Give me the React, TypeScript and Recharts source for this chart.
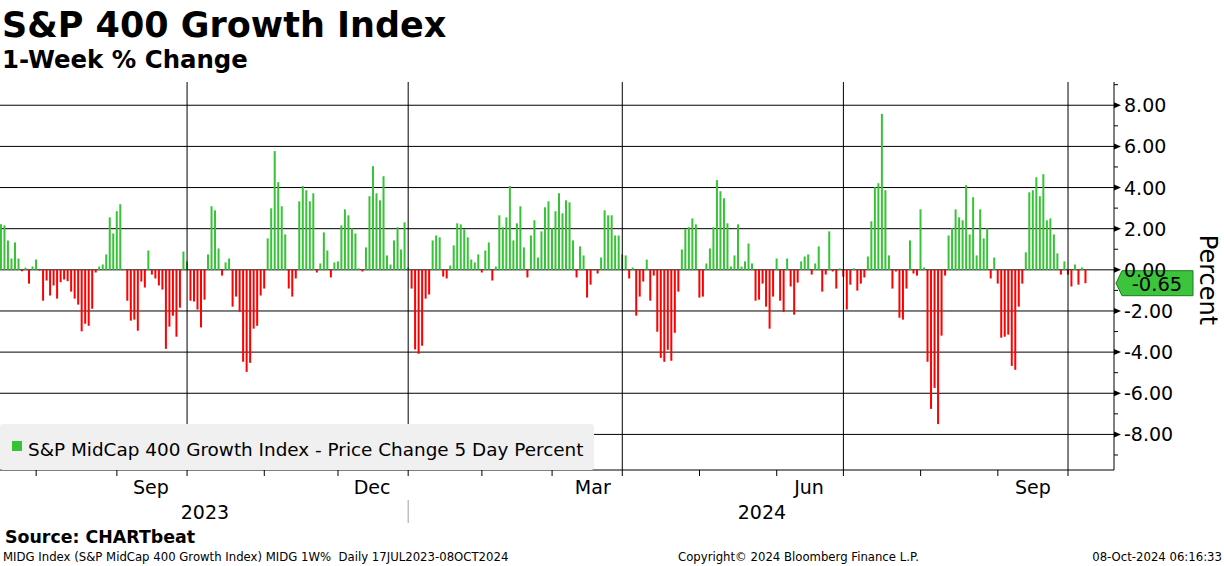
import React from "react";
import { BarChart, Bar, XAxis, YAxis, CartesianGrid, ReferenceLine, Cell } from "recharts";

const FONT = "'DejaVu Sans', Verdana, sans-serif";
const GREEN = "#36c336";
const RED = "#ff0000";

// 5-day % change, one value per trading day (17 Jul 2023 .. 07 Oct 2024)
const chg2023Q3 = [
  2.21, 2.16, 1.43, 0.55, 1.33, 0.55, -0.07, 0.11, -0.67, 0.16,
  0.5, -0.03, -1.5, -0.52, -1.25, -0.76, -1.4, -0.6, -0.47, -0.55,
  -1.06, -1.4, -1.69, -2.99, -2.62, -2.72, -1.89, -0.13, 0.16, 0.26,
  0.75, 2.55, 1.77, 2.85, 3.19, 0.02, -1.5, -2.47, -2.42, -2.96,
  -0.57, -0.86, 0.94, -0.23, -0.42, -0.76, -0.96, -3.84, -2.76, -2.23,
  -3.25, -1.84, 0.89, 0.41,
];
const chg2023Q4 = [
  -1.5, -1.54, -1.93, -2.8, -1.45, 0.75, 3.09, 2.89, 1.04, -0.28,
  0.36, 0.55, -1.79, -1.3, -2.03, -4.47, -4.96, -4.52, -2.86, -2.72,
  -1.25, -0.91, 1.53, 2.99, 5.77, 4.26, 3.09, 1.72, -0.91, -1.3,
  -0.42, 3.33, 4.07, 3.87, 3.33, 3.72, -0.13, 0.31, 1.82, 0.94,
  -0.37, 0.36, 0.41, 2.16, 2.94, 2.65, 2.02, 1.77, 0.07, -0.08,
  1.09, 3.58, 5.04, 3.72, 3.38, 4.55, 0.7, 0.26, 1.43, 2.07,
  0.99, 2.31, 0.1,
];
const chg2024Q1 = [
  -0.91, -3.87, -4.08, -3.69, -1.4, -1.2, 1.43, 1.67, 1.58, -0.33,
  -0.42, 0.21, 1.19, 2.26, 2.21, 1.97, 1.58, 0.5, 0.36, 0.75,
  -0.13, 0.94, 1.33, -0.52, 0.16, 2.65, 2.07, 2.55, 4.07, 1.43,
  2.26, 3.09, 1.09, -0.37, 1.67, 2.41, 0.6, 1.87, 3.04, 3.33,
  2.02, 2.85, 3.72, 2.75, 3.38, 3.28, 1.43, -0.37, 1.14, 0.7,
  -1.35, -0.72, -0.02, -0.18, 0.6, 2.89, 2.65, 2.65, 1.67, 1.67,
  0.75,
];
const chg2024Q2 = [
  0.7, -0.42, 0.11, -2.23, -1.3, -0.57, 0.5, -1.5, -0.28, -3.01,
  -4.28, -4.47, -3.89, -4.42, -3.06, -1.06, 0.99, 1.97, 2.07, 2.5,
  2.21, -1.35, -1.3, 0.31, 1.04, 2.07, 4.36, 3.82, 3.48, 2.26,
  0.16, 0.7, 2.21, 0.16, 0.41, 1.28, 0.31, -1.5, -1.45, -0.67,
  -1.79, -2.86, -1.3, 0.55, -1.5, -2.05, 0.55, -0.81, -2.18, -0.62,
  0.41, 0.65, 0.75, -0.23, 0.31, 1.14, -1.06, -0.23, 1.87, -0.08,
  -0.91, 0.07, -0.33,
];
const chg2024Q3 = [
  -1.93, -0.72, 0.07, -1.01, -0.67, -0.37, 0.65, 2.36, 4.02, 4.21,
  7.58, 3.87, 0.7, -0.91, -0.08, -2.33, -2.42, -0.91, 1.43, -0.18,
  -0.28, 2.94, 0.11, -4.47, -6.76, -5.74, -7.5, -3.2, -0.28, 1.67,
  2.02, 2.94, 2.55, 2.41, 4.11, 1.72, 3.53, 0.7, 2.94, 1.53,
  2.02, -0.42, 0.6, -0.67, -3.3, -3.25, -3.15, -4.67, -4.86, -1.79,
  -0.67, 0.85, 3.77, 3.87, 4.5, 3.58, 4.65, 2.41, 2.5, 1.72,
  0.8, -0.23, 0.41, -0.23,
];
const chg2024Q4 = [-0.81, 0.26, -0.72, 0.11, -0.65];

const values = [...chg2023Q3, ...chg2023Q4, ...chg2024Q1, ...chg2024Q2, ...chg2024Q3, ...chg2024Q4];
const data = values.map((v, i) => ({ i, v }));
const lastValue = values[values.length - 1];

const X_DOMAIN: [number, number] = [-0.2, 317.2];
const Y_DOMAIN: [number, number] = [-9.73, 9.13];
const yTicks = [-9, -8, -7, -6, -5, -4, -3, -2, -1, 0, 1, 2, 3, 4, 5, 6, 7, 8, 9];
const yGrid = [-8, -6, -4, -2, 0, 2, 4, 6, 8];

// positions on the trading-day index axis
const quarterLines = [53.1, 116.1, 177.1, 240.1, 304.1];
const monthTicks = [10.1, 33.1, 53.1, 75.1, 96.1, 116.1, 137.1, 157.1, 177.1, 199.1, 221.1, 240.1, 262.1, 284.1, 304.1];
const monthLabelPos = [42.8, 105.8, 168.7, 230.3, 294.1];
const monthLabelText = ["Sep", "Dec", "Mar", "Jun", "Sep"];
const yearTickPos = [58.2, 116.1, 216.9];
const yearTickText = ["2023", "", "2024"];

const EmptyTick = () => <g />;

const MonthTick = (props: any) => {
  const { x, y, payload } = props;
  const idx = monthLabelPos.indexOf(payload.value);
  return (
    <text x={x} y={y + 16} textAnchor="middle" fontSize={19} fontFamily={FONT} fill="#000">
      {monthLabelText[idx]}
    </text>
  );
};

const YearTick = (props: any) => {
  const { x, y, payload } = props;
  const idx = yearTickPos.indexOf(payload.value);
  const label = yearTickText[idx];
  if (!label) {
    return <line x1={x} x2={x} y1={y - 8} y2={y + 15} stroke="#a0a0a0" strokeWidth={1} />;
  }
  return (
    <text x={x} y={y + 11} textAnchor="middle" fontSize={19} fontFamily={FONT} fill="#000">
      {label}
    </text>
  );
};

const YTick = (props: any) => {
  const { x, y, payload } = props;
  const v = payload.value as number;
  if (Math.abs(v % 2) === 1) {
    return <line x1={x} x2={x + 4} y1={y} y2={y} stroke="#000" strokeWidth={1} />;
  }
  return (
    <g>
      <path d={`M${x},${y - 3}L${x + 7},${y}L${x},${y + 3}Z`} fill="#000" />
      <text x={x + 10} y={y} dominantBaseline="central" fontSize={19} fontFamily={FONT} fill="#000">
        {v.toFixed(2)}
      </text>
    </g>
  );
};

const PercentLabel = (p: any) => {
  const vb = p.viewBox || { x: 1114, y: 82, width: 110, height: 388 };
  const cx = vb.x + 94;
  const cy = vb.y + vb.height / 2 + 4;
  return (
    <text
      x={cx}
      y={cy}
      transform={`rotate(90 ${cx} ${cy})`}
      textAnchor="middle"
      dominantBaseline="central"
      fontSize={24}
      fontFamily={FONT}
      fill="#000"
    >
      Percent
    </text>
  );
};

const LastValueLabel = (p: any) => {
  const vb = p.viewBox || { x: 0, y: 0, width: 1114, height: 0 };
  const xr = vb.x + vb.width;
  const y = vb.y;
  const x0 = xr + 2;
  const h = 12.5;
  return (
    <g>
      <path
        d={`M${x0},${y}L${x0 + 6},${y - h}L${xr + 79},${y - h}L${xr + 79},${y + h}L${x0 + 6},${y + h}Z`}
        fill="#3cc43c"
        stroke="#1f7a1f"
        strokeWidth={1}
      />
      <text x={xr + 43} y={y + 1} textAnchor="middle" dominantBaseline="central" fontSize={19.5} fontFamily={FONT} fill="#000">
        {lastValue.toFixed(2)}
      </text>
    </g>
  );
};

export default function App() {
  return (
    <div style={{ position: "absolute", left: 0, top: 0, width: 1224, height: 566, background: "#fff", overflow: "hidden" }}>
      <style>{`body{margin:0;background:#fff}`}</style>
      <div style={{ position: "absolute", left: 0, top: 0 }}>
        <BarChart width={1224} height={530} data={data} margin={{ top: 82, right: 0, left: 0, bottom: 0 }}>
          <CartesianGrid vertical={false} horizontalValues={yGrid} stroke="#000" strokeWidth={1} strokeDasharray="" />
          <XAxis
            xAxisId={0}
            dataKey="i"
            type="number"
            domain={X_DOMAIN}
            allowDataOverflow
            ticks={monthTicks}
            interval={0}
            height={8}
            tickSize={6}
            tickLine={{ stroke: "#000" }}
            axisLine={{ stroke: "#000" }}
            tick={EmptyTick}
          />
          <XAxis
            xAxisId="mon"
            dataKey="i"
            type="number"
            domain={X_DOMAIN}
            allowDataOverflow
            ticks={monthLabelPos}
            interval={0}
            height={30}
            tickSize={0}
            tickMargin={0}
            tickLine={false}
            axisLine={false}
            tick={MonthTick}
          />
          <XAxis
            xAxisId="yr"
            dataKey="i"
            type="number"
            domain={X_DOMAIN}
            allowDataOverflow
            ticks={yearTickPos}
            interval={0}
            height={22}
            tickSize={0}
            tickMargin={0}
            tickLine={false}
            axisLine={false}
            tick={YearTick}
          />
          <YAxis
            orientation="right"
            type="number"
            domain={Y_DOMAIN}
            allowDataOverflow
            ticks={yTicks}
            interval={0}
            width={110}
            tickSize={0}
            tickMargin={0}
            tickLine={false}
            axisLine={{ stroke: "#000" }}
            tick={YTick}
            label={PercentLabel}
          />
          <Bar dataKey="v" barSize={2} isAnimationActive={false}>
            {data.map((d) => (
              <Cell key={d.i} fill={d.v >= 0 ? GREEN : RED} />
            ))}
          </Bar>
          {quarterLines.map((q) => (
            <ReferenceLine key={q} x={q} stroke="#000" strokeWidth={1} />
          ))}
          <ReferenceLine y={lastValue} stroke="none" label={LastValueLabel} />
        </BarChart>
      </div>
      <svg width={1224} height={566} style={{ position: "absolute", left: 0, top: 0, pointerEvents: "none" }}>
        <text x={2} y={37} fontSize={35} fontWeight="bold" fontFamily={FONT} fill="#000">S&amp;P 400 Growth Index</text>
        <text x={2} y={68} fontSize={24.4} fontWeight="bold" fontFamily={FONT} fill="#000">1-Week % Change</text>
        <rect x={0} y={424} width={594} height={46} rx={3} fill="#f0f0f0" />
        <rect x={12} y={441} width={10} height={10} fill={GREEN} />
        <text x={28} y={456} fontSize={18.4} fontFamily={FONT} fill="#000">S&amp;P MidCap 400 Growth Index - Price Change 5 Day Percent</text>
        <text x={5} y={543} fontSize={17.4} fontWeight="bold" fontFamily={FONT} fill="#000">Source: CHARTbeat</text>
        <text x={3} y={561} fontSize={11.7} fontFamily={FONT} fill="#000" style={{ whiteSpace: "pre" }}>MIDG Index (S&amp;P MidCap 400 Growth Index) MIDG 1W%  Daily 17JUL2023-08OCT2024</text>
        <text x={678} y={561} fontSize={11.7} fontFamily={FONT} fill="#000">Copyright© 2024 Bloomberg Finance L.P.</text>
        <text x={1222} y={561} textAnchor="end" fontSize={11.7} fontFamily={FONT} fill="#000">08-Oct-2024 06:16:33</text>
      </svg>
    </div>
  );
}
